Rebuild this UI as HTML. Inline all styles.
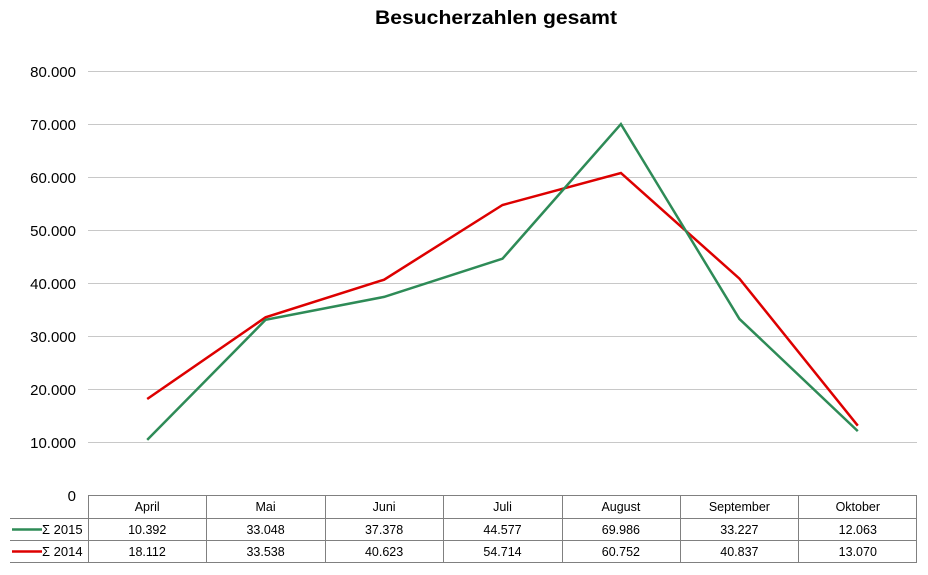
<!DOCTYPE html>
<html><head><meta charset="utf-8"><style>
body{margin:0;background:#fff}
text{font-family:"Liberation Sans",Arial,sans-serif}
</style></head><body>
<svg width="928" height="570" xmlns="http://www.w3.org/2000/svg">
<rect width="928" height="570" fill="#fff"/>
<text x="496" y="24" text-anchor="middle" font-size="19" font-weight="bold" textLength="242" lengthAdjust="spacingAndGlyphs">Besucherzahlen gesamt</text>
<g stroke="#c8c8c8" stroke-width="1">
<line x1="88" y1="71.5" x2="917" y2="71.5"/>
<line x1="88" y1="124.5" x2="917" y2="124.5"/>
<line x1="88" y1="177.5" x2="917" y2="177.5"/>
<line x1="88" y1="230.5" x2="917" y2="230.5"/>
<line x1="88" y1="283.5" x2="917" y2="283.5"/>
<line x1="88" y1="336.5" x2="917" y2="336.5"/>
<line x1="88" y1="389.5" x2="917" y2="389.5"/>
<line x1="88" y1="442.5" x2="917" y2="442.5"/>
</g>
<g font-size="15" text-anchor="end">
<text x="76" y="77">80.000</text>
<text x="76" y="130">70.000</text>
<text x="76" y="183">60.000</text>
<text x="76" y="236">50.000</text>
<text x="76" y="289">40.000</text>
<text x="76" y="342">30.000</text>
<text x="76" y="395">20.000</text>
<text x="76" y="448">10.000</text>
<text x="76" y="501">0</text>
</g>
<polyline fill="none" stroke="#dd0000" stroke-width="2.5" points="147.2,399 265.6,317.3 384.1,279.7 502.5,205 620.9,173 739.4,278.6 857.8,425.7"/>
<polyline fill="none" stroke="#2e8b57" stroke-width="2.5" points="147.2,439.9 265.6,319.8 384.1,296.9 502.5,258.7 620.9,124.1 739.4,318.9 857.8,431.1"/>
<g stroke="#808080" stroke-width="1" fill="none">
<line x1="88.5" y1="495" x2="88.5" y2="562"/>
<line x1="88" y1="495.5" x2="917" y2="495.5"/>
<line x1="10" y1="518.5" x2="917" y2="518.5"/>
<line x1="10" y1="540.5" x2="917" y2="540.5"/>
<line x1="10" y1="562.5" x2="917" y2="562.5"/>
<line x1="206.5" y1="495" x2="206.5" y2="562"/>
<line x1="325.5" y1="495" x2="325.5" y2="562"/>
<line x1="443.5" y1="495" x2="443.5" y2="562"/>
<line x1="562.5" y1="495" x2="562.5" y2="562"/>
<line x1="680.5" y1="495" x2="680.5" y2="562"/>
<line x1="798.5" y1="495" x2="798.5" y2="562"/>
<line x1="916.5" y1="495" x2="916.5" y2="562"/>
</g>
<line x1="12" y1="529.5" x2="42" y2="529.5" stroke="#2e8b57" stroke-width="2.5"/>
<line x1="12" y1="551.5" x2="42" y2="551.5" stroke="#dd0000" stroke-width="2.5"/>
<g font-size="13">
<text x="42" y="534">Σ 2015</text>
<text x="42" y="556">Σ 2014</text>
</g>
<g font-size="12.5" text-anchor="middle">
<text x="147.2" y="511">April</text><text x="265.6" y="511">Mai</text><text x="384.1" y="511">Juni</text><text x="502.5" y="511">Juli</text><text x="620.9" y="511">August</text><text x="739.4" y="511">September</text><text x="857.8" y="511">Oktober</text>
<text x="147.2" y="534">10.392</text><text x="265.6" y="534">33.048</text><text x="384.1" y="534">37.378</text><text x="502.5" y="534">44.577</text><text x="620.9" y="534">69.986</text><text x="739.4" y="534">33.227</text><text x="857.8" y="534">12.063</text>
<text x="147.2" y="556">18.112</text><text x="265.6" y="556">33.538</text><text x="384.1" y="556">40.623</text><text x="502.5" y="556">54.714</text><text x="620.9" y="556">60.752</text><text x="739.4" y="556">40.837</text><text x="857.8" y="556">13.070</text>
</g>
</svg>
</body></html>
